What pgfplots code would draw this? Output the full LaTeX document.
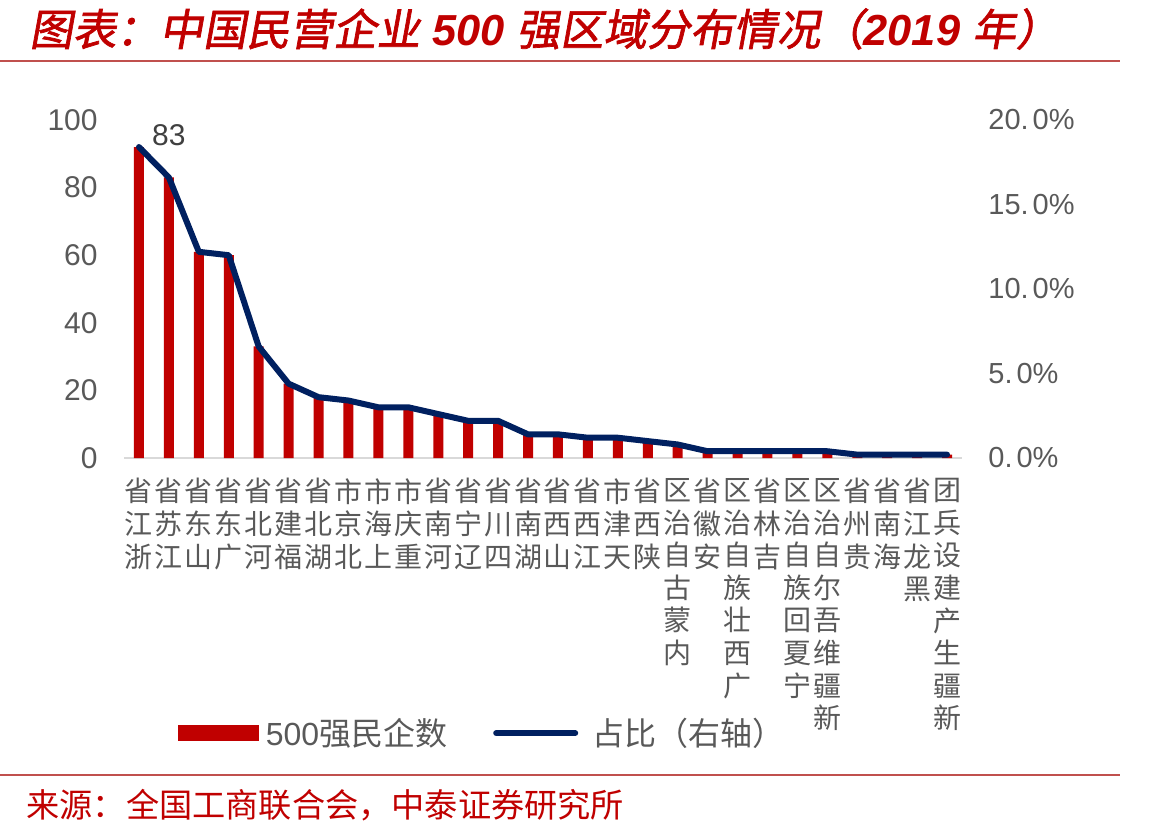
\documentclass[border=0pt]{standalone}
\usepackage{fontspec}
\setmainfont{Liberation Sans}
\newfontfamily\cjk{Noto Sans CJK SC}
\newfontfamily\cjktitle{Noto Sans CJK SC}[FakeSlant=0.18, FakeBold=1.6]
\usepackage{pgfplots}
\usepackage{pgfplotstable}
\pgfplotsset{compat=1.18}

\definecolor{barred}{HTML}{C00000}
\definecolor{navy}{HTML}{002060}
\definecolor{txtgray}{HTML}{595959}
\definecolor{rulered}{HTML}{C0504D}

% number of top-500 private firms per region, and share of the 500 (%)
\pgfplotstableread{
idx count pct
0  92 18.4
1  83 16.6
2  61 12.2
3  60 12.0
4  33 6.6
5  22 4.4
6  18 3.6
7  17 3.4
8  15 3.0
9  15 3.0
10 13 2.6
11 11 2.2
12 11 2.2
13 7  1.4
14 7  1.4
15 6  1.2
16 6  1.2
17 5  1.0
18 4  0.8
19 2  0.4
20 2  0.4
21 2  0.4
22 2  0.4
23 2  0.4
24 1  0.2
25 1  0.2
26 1  0.2
27 1  0.2
}\regiondata

\begin{document}
\begin{tikzpicture}
\useasboundingbox (0,0) rectangle (586.5pt,-420pt);

% title and rules
\node[anchor=west, text=barred, inner sep=0pt] at (14.5pt,-14.5pt)
  {\fontsize{21.7}{25}\selectfont{\cjktitle 图表：中国民营企业} {\bfseries\itshape 500} {\cjktitle 强区域分布情况（}{\bfseries\itshape 2019} {\cjktitle 年）}};
\draw[rulered, line width=0.8pt] (0pt,-30.5pt) -- (560pt,-30.5pt);
\draw[rulered, line width=0.8pt] (0pt,-387.5pt) -- (560pt,-387.5pt);
\node[anchor=west, text=barred, inner sep=0pt, font=\cjk\fontsize{16.6}{18}\selectfont] at (13pt,-402.5pt)
  {来源：全国工商联合会，中泰证券研究所};

% bars: number of firms (left axis)
\begin{axis}[
  at={(62pt,-229pt)}, anchor=south west,
  scale only axis, width=419pt, height=169pt,
  xmin=-0.5, xmax=27.5, ymin=0, ymax=100,
  axis lines*=left,
  x axis line style={draw=black!15, line width=1pt},
  y axis line style={draw=none},
  major tick length=0pt,
  xtick={0,...,27},
  xticklabels={
    {省\\江\\浙},{省\\苏\\江},{省\\东\\山},{省\\东\\广},{省\\北\\河},
    {省\\建\\福},{省\\北\\湖},{市\\京\\北},{市\\海\\上},{市\\庆\\重},
    {省\\南\\河},{省\\宁\\辽},{省\\川\\四},{省\\南\\湖},{省\\西\\山},
    {省\\西\\江},{市\\津\\天},{省\\西\\陕},{区\\治\\自\\古\\蒙\\内},{省\\徽\\安},
    {区\\治\\自\\族\\壮\\西\\广},{省\\林\\吉},{区\\治\\自\\族\\回\\夏\\宁},
    {区\\治\\自\\尔\\吾\\维\\疆\\新},{省\\州\\贵},{省\\南\\海},{省\\江\\龙\\黑},
    {团\\兵\\设\\建\\产\\生\\疆\\新}},
  xticklabel style={font=\cjk\fontsize{14}{16.3}\selectfont, text=txtgray,
    inner sep=0pt, anchor=north, align=center, yshift=-10pt},
  ytick={0,20,...,100},
  yticklabels={0,20,40,60,80,100},
  yticklabel style={font=\fontsize{15}{18}\selectfont, text=txtgray,
    inner sep=0pt, anchor=east, xshift=-13pt},
  legend columns=2,
  legend style={at={(0.064,-0.814)}, anchor=west, draw=none, fill=none,
    inner sep=0pt, font=\fontsize{16}{18}\selectfont, text=txtgray,
    nodes={inner sep=2pt},
    /tikz/every even column/.append style={column sep=21pt}},
]
\addplot[ybar, bar width=5pt, fill=barred, draw=none, forget plot]
  table[x=idx, y=count] {\regiondata};
\node[font=\fontsize{15}{18}\selectfont, text=black!75, yshift=21pt] at (axis cs:1,83) {83};
\addlegendimage{legend image code/.code={\fill[barred] (0pt,-3.75pt) rectangle (40pt,3.75pt);}}
\addlegendentry{\hspace{1.5pt}500{\cjk 强民企数}}
\addlegendimage{legend image code/.code={\draw[navy, line width=3pt, line cap=round] (1.5pt,0pt) -- (41pt,0pt);}}
\addlegendentry{\hspace{5pt}{\cjk 占比（右轴）}}
\end{axis}

% line: share of total (right axis)
\begin{axis}[
  at={(62pt,-229pt)}, anchor=south west,
  scale only axis, width=419pt, height=169pt,
  xmin=-0.5, xmax=27.5, ymin=0, ymax=20,
  axis x line=none, axis y line*=right,
  y axis line style={draw=none},
  xtick=\empty,
  major tick length=0pt,
  ytick={0,5,...,20},
  yticklabels={0.\hspace{2pt}0\%,5.\hspace{2pt}0\%,10.\hspace{2pt}0\%,15.\hspace{2pt}0\%,20.\hspace{2pt}0\%},
  yticklabel style={font=\fontsize{14.5}{18}\selectfont, text=txtgray,
    inner sep=0pt, anchor=west, xshift=13pt},
]
\addplot[navy, line width=3pt, line join=round, line cap=round, mark=none]
  table[x=idx, y=pct] {\regiondata};
\end{axis}
\end{tikzpicture}
\end{document}
